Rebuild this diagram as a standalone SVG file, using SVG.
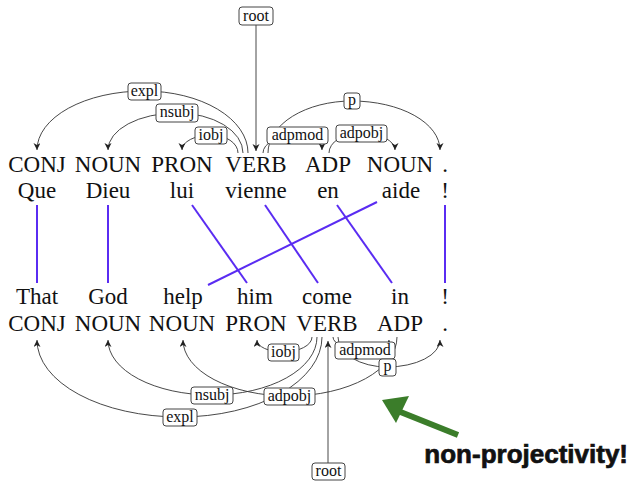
<svg xmlns="http://www.w3.org/2000/svg" width="631" height="481" viewBox="0 0 631 481">
<style>
.tok{font-family:"Liberation Serif","Times New Roman",serif;font-size:23px;fill:#111;text-anchor:middle}
.arc{fill:none;stroke:#333;stroke-width:0.9;marker-end:url(#ah)}
.lbl rect{fill:#fff;stroke:#444;stroke-width:1}
.lbl text{font-family:"Liberation Serif","Times New Roman",serif;font-size:16px;fill:#111;text-anchor:middle}
.al{stroke:#5a2cf2;stroke-width:2}
</style>
<defs>
<marker id="ah" markerUnits="userSpaceOnUse" markerWidth="10" markerHeight="8" refX="7" refY="3.5" orient="auto">
<path d="M0,0 L7,3.5 L0,7 L2,3.5 z" fill="#222"/>
</marker>
</defs>
<rect width="631" height="481" fill="#fff"/>

<g id="french">
<g id="fr-tags">
<text class="tok" x="37" y="172">CONJ</text>
<text class="tok" x="108" y="172">NOUN</text>
<text class="tok" x="182" y="172">PRON</text>
<text class="tok" x="256" y="172">VERB</text>
<text class="tok" x="328" y="172">ADP</text>
<text class="tok" x="400" y="172">NOUN</text>
<text class="tok" x="445" y="172">.</text>
</g>
<g id="fr-words">
<text class="tok" x="37" y="198">Que</text>
<text class="tok" x="108" y="198">Dieu</text>
<text class="tok" x="182" y="198">lui</text>
<text class="tok" x="256" y="198">vienne</text>
<text class="tok" x="328" y="198">en</text>
<text class="tok" x="401" y="198">aide</text>
<text class="tok" x="445" y="198">!</text>
</g>
</g>

<g id="english">
<g id="en-words">
<text class="tok" x="37" y="304">That</text>
<text class="tok" x="108" y="304">God</text>
<text class="tok" x="183" y="304">help</text>
<text class="tok" x="255" y="304">him</text>
<text class="tok" x="327" y="304">come</text>
<text class="tok" x="400" y="304">in</text>
<text class="tok" x="445" y="304">!</text>
</g>
<g id="en-tags">
<text class="tok" x="37" y="331">CONJ</text>
<text class="tok" x="108" y="331">NOUN</text>
<text class="tok" x="182" y="331">NOUN</text>
<text class="tok" x="256" y="331">PRON</text>
<text class="tok" x="327" y="331">VERB</text>
<text class="tok" x="400" y="331">ADP</text>
<text class="tok" x="445" y="331">.</text>
</g>
</g>

<g id="alignments">
<line class="al" x1="37" y1="205" x2="37" y2="283"/>
<line class="al" x1="108" y1="205" x2="108" y2="283"/>
<line class="al" x1="192" y1="205" x2="247" y2="283"/>
<line class="al" x1="265" y1="205" x2="318" y2="283"/>
<line class="al" x1="337" y1="205" x2="392" y2="283"/>
<line class="al" x1="377" y1="202" x2="208" y2="285"/>
<line class="al" x1="445" y1="205" x2="445" y2="283"/>
</g>

<g id="connectors">
<!-- top (French) -->
<line class="arc" x1="256" y1="25" x2="256" y2="151"/>
<path class="arc" d="M248,153 A104,62 0 0 0 144,91 A107,59 0 0 0 37,150"/>
<path class="arc" d="M243,153 A66,40 0 0 0 177,113 A69,37 0 0 0 108,150"/>
<path class="arc" d="M238,153 A27,18 0 0 0 211,135 A29,15 0 0 0 182,150"/>
<path class="arc" d="M268,153 A84,52 0 0 1 352,101 A88,49 0 0 1 440,150"/>
<path class="arc" d="M263,153 A34,18 0 0 1 297,135 A25,15 0 0 1 322,150"/>
<path class="arc" d="M329,153 A32,20 0 0 1 361,133 A34,17 0 0 1 395,150"/>
<!-- bottom (English) -->
<line class="arc" x1="328" y1="463" x2="328" y2="341"/>
<path class="arc" d="M322,337 A142,80 0 0 1 180,417 A143,77 0 0 1 37,340"/>
<path class="arc" d="M317,337 A105,58 0 0 1 212,395 A104,55 0 0 1 108,340"/>
<path class="arc" d="M312,337 A29,15 0 0 1 283,352 A26,12 0 0 1 257,340"/>
<path class="arc" d="M397,337 A108,59 0 0 1 289,396 A106,56 0 0 1 183,340"/>
<path class="arc" d="M333,337 A32,13 0 0 0 365,350 A24,10 0 0 0 389,340"/>
<path class="arc" d="M338,337 A49,30 0 0 0 387,367 A53,27 0 0 0 440,340"/>

<g class="lbl">
<rect x="239" y="7" width="34" height="18" rx="3"/><text x="256" y="21">root</text>
<rect x="128" y="83" width="33" height="17" rx="3"/><text x="144.5" y="96">expl</text>
<rect x="156" y="104" width="42" height="18" rx="3"/><text x="177" y="117">nsubj</text>
<rect x="195" y="127" width="32" height="17" rx="3"/><text x="211" y="140">iobj</text>
<rect x="267" y="127" width="61" height="17" rx="3"/><text x="297.5" y="140">adpmod</text>
<rect x="336" y="125" width="51" height="17" rx="3"/><text x="361.5" y="138">adpobj</text>
<rect x="344" y="93" width="16" height="16" rx="3"/><text x="352" y="105">p</text>

<rect x="268" y="344" width="31" height="17" rx="3"/><text x="283.5" y="357">iobj</text>
<rect x="335" y="342" width="60" height="17" rx="3"/><text x="365" y="355">adpmod</text>
<rect x="379" y="359" width="17" height="17" rx="3"/><text x="387.5" y="371">p</text>
<rect x="191" y="387" width="42" height="17" rx="3"/><text x="212" y="400">nsubj</text>
<rect x="264" y="388" width="51" height="17" rx="3"/><text x="289.5" y="401">adpobj</text>
<rect x="163" y="409" width="34" height="17" rx="3"/><text x="180" y="422">expl</text>
<rect x="312" y="463" width="33" height="17" rx="3"/><text x="328.5" y="476">root</text>
</g>
</g>

<g id="callout">
<line x1="458" y1="435" x2="398" y2="411" stroke="#3b7d2a" stroke-width="6"/>
<polygon points="382,400 409,396 396,423" fill="#3b7d2a"/>
<text x="628" y="463" text-anchor="end" font-family="Liberation Sans, Arial, sans-serif" font-size="26" font-weight="bold" fill="#111" stroke="#111" stroke-width="0.7">non-projectivity!</text>
</g>
</svg>
